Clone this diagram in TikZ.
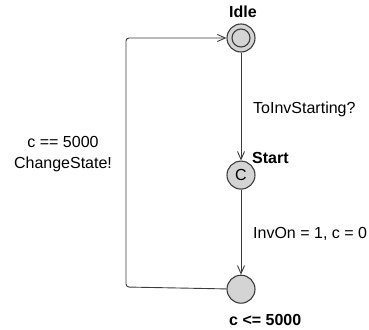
\documentclass[tikz,border=0pt]{standalone}
\usepackage{fontspec}
\setmainfont{Liberation Sans}
\usepackage{tikz}
\usetikzlibrary{positioning,arrows.meta}

\definecolor{locfill}{RGB}{212,212,212}
\definecolor{locdraw}{RGB}{60,60,60}

\begin{document}
\begin{tikzpicture}[
    x=1pt, y=-1pt,
    node distance=108pt,
    every node/.style={font=\fontsize{16}{21}\selectfont},
    location/.style={
        circle,
        draw=locdraw,
        fill=locfill,
        line width=1.1pt,
        inner sep=0pt,
        minimum size=28pt
    },
    lbl/.style={inner sep=0pt, font=\fontsize{16}{21}\selectfont\bfseries},
    edgelbl/.style={inner sep=0pt, align=center},
    edge/.style={-{Straight Barb[length=8pt,width=7pt]}, draw=locdraw, line width=0.9pt}
]
\useasboundingbox (0,0) rectangle (369,329);

\node[location] (idle) at (241,38) {};
\node[location, below=of idle] (start) {C};
\node[location, below=85pt of start] (final) {};
\draw[locdraw, line width=1.1pt] (idle.center) circle[radius=9pt];

% location names and invariant
\node[lbl, anchor=base] (idlelbl) at (243,18) {Idle};
\node[lbl, anchor=base west] (startlbl) at (252,163) {Start};
\node[lbl, anchor=base west] (invlbl) at (229,325) {c <= 5000};

% loop corners
\coordinate (loopbl) at (126,287);
\coordinate (looptl) at (126,38);

\draw[edge] (idle) -- (start);
\draw[edge] (start) -- (final);
\draw[edge, rounded corners=3pt] (final) -- (loopbl) -- (looptl) -- (idle);

\node[edgelbl, anchor=base west] (synclbl) at (253,113) {ToInvStarting?};
\node[edgelbl, anchor=base west] (updlbl) at (253,238) {InvOn = 1, c = 0};
\node[edgelbl, anchor=base] (guardlbl) at (63,168) {c == 5000\\ChangeState!};

\end{tikzpicture}
\end{document}
